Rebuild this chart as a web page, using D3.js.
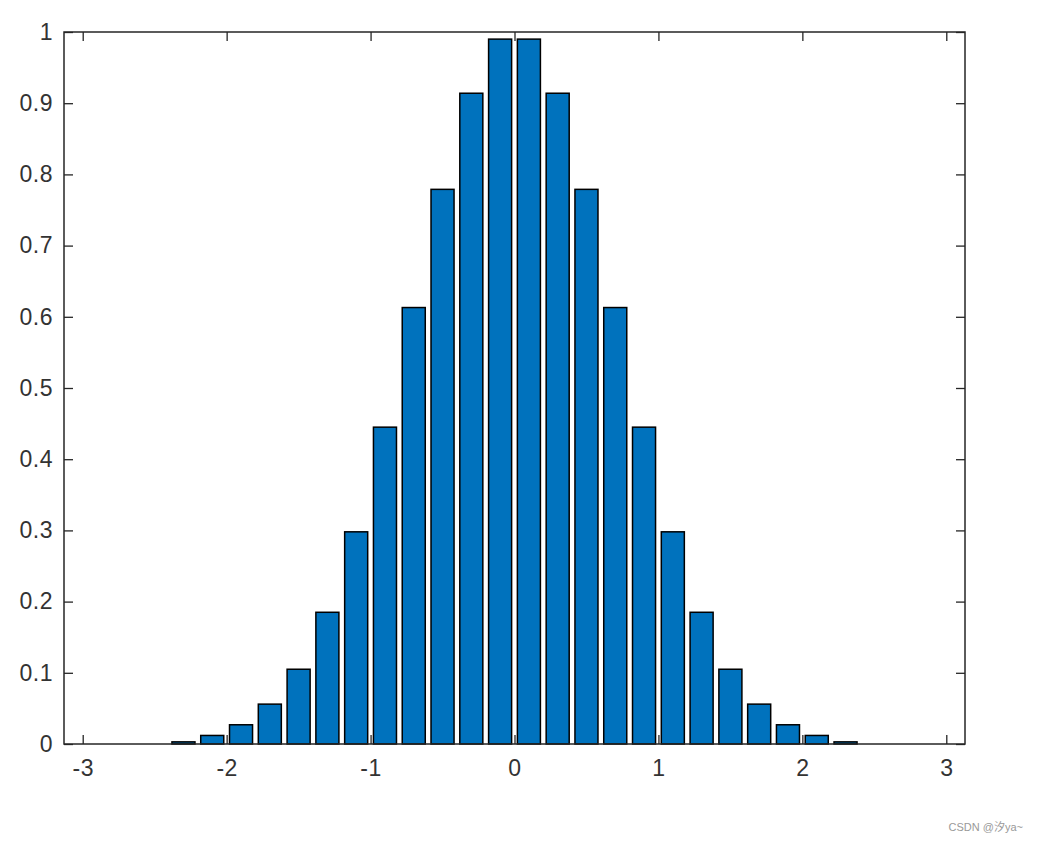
<!DOCTYPE html>
<html>
<head>
<meta charset="utf-8">
<script src="https://cdn.jsdelivr.net/npm/d3@7"></script>
<style>
  body { margin: 0; background: #fff; }
  svg { display: block; }
  .tick text { font-family: "Liberation Sans", Arial, sans-serif; font-size: 23px; fill: #333; letter-spacing: 0.5px; }
</style>
</head>
<body>
<div id="chart"></div>
<script>
// bar centres and heights
const xs = [-2.3,-2.1,-1.9,-1.7,-1.5,-1.3,-1.1,-0.9,-0.7,-0.5,-0.3,-0.1,
             0.1, 0.3, 0.5, 0.7, 0.9, 1.1, 1.3, 1.5, 1.7, 1.9, 2.1, 2.3];
const ys = [0.003,0.012,0.027,0.056,0.105,0.185,0.298,0.445,0.613,0.779,0.914,0.990,
            0.990,0.914,0.779,0.613,0.445,0.298,0.185,0.105,0.056,0.027,0.012,0.003];
const xTicks = [-3,-2,-1,0,1,2,3];
const yTicks = [0,0.1,0.2,0.3,0.4,0.5,0.6,0.7,0.8,0.9,1];

const data = xs.map((x,i)=>({x, y: ys[i]}));

const W=1039, H=842, M={top:32,right:74,bottom:98,left:64};
const svg=d3.select("#chart").append("svg").attr("width",W).attr("height",H);

const x=d3.scaleLinear().domain([-3.13,3.13]).range([M.left,W-M.right]);
const y=d3.scaleLinear().domain([0,1]).range([H-M.bottom,M.top]);
const bw = (x(0.2)-x(0))*0.8;
const axisCol="#262626", tl=9;
const fmt = d => String(d); // plain hyphen minus, like MATLAB

svg.selectAll("rect.bar").data(data).join("rect")
  .attr("class","bar")
  .attr("x",d=>x(d.x)-bw/2).attr("width",bw)
  .attr("y",d=>y(d.y)).attr("height",d=>y(0)-y(d.y))
  .attr("fill","#0072BD").attr("stroke","#000").attr("stroke-width",1.5);

function style(g){
  g.select(".domain").remove();
  g.selectAll(".tick line").attr("stroke",axisCol).attr("stroke-width",1.3);
}
// bottom / top
svg.append("g").attr("transform",`translate(0,${y(0)})`)
  .call(d3.axisTop(x).tickValues(xTicks).tickSize(tl).tickFormat(""))
  .call(style);
svg.append("g").attr("transform",`translate(0,${y(0)})`)
  .call(d3.axisBottom(x).tickValues(xTicks).tickSize(0).tickPadding(16).tickFormat(fmt))
  .call(style);
svg.append("g").attr("transform",`translate(0,${y(1)})`)
  .call(d3.axisBottom(x).tickValues(xTicks).tickSize(tl).tickFormat(""))
  .call(style);
// left / right
svg.append("g").attr("transform",`translate(${x.range()[0]},0)`)
  .call(d3.axisRight(y).tickValues(yTicks).tickSize(tl).tickFormat(""))
  .call(style);
svg.append("g").attr("transform",`translate(${x.range()[0]},0)`)
  .call(d3.axisLeft(y).tickValues(yTicks).tickSize(0).tickPadding(11).tickFormat(fmt))
  .call(style);
svg.append("g").attr("transform",`translate(${x.range()[1]},0)`)
  .call(d3.axisLeft(y).tickValues(yTicks).tickSize(tl).tickFormat(""))
  .call(style);

svg.append("rect")
  .attr("x",x.range()[0]).attr("y",y(1))
  .attr("width",x.range()[1]-x.range()[0]).attr("height",y(0)-y(1))
  .attr("fill","none").attr("stroke",axisCol).attr("stroke-width",1.5);

svg.append("text").attr("x",1023).attr("y",831).attr("text-anchor","end")
  .attr("font-family","'Liberation Sans', 'Noto Sans CJK SC', sans-serif").attr("font-size",11)
  .attr("fill","#999").text("CSDN @汐ya~");
</script>
</body>
</html>
